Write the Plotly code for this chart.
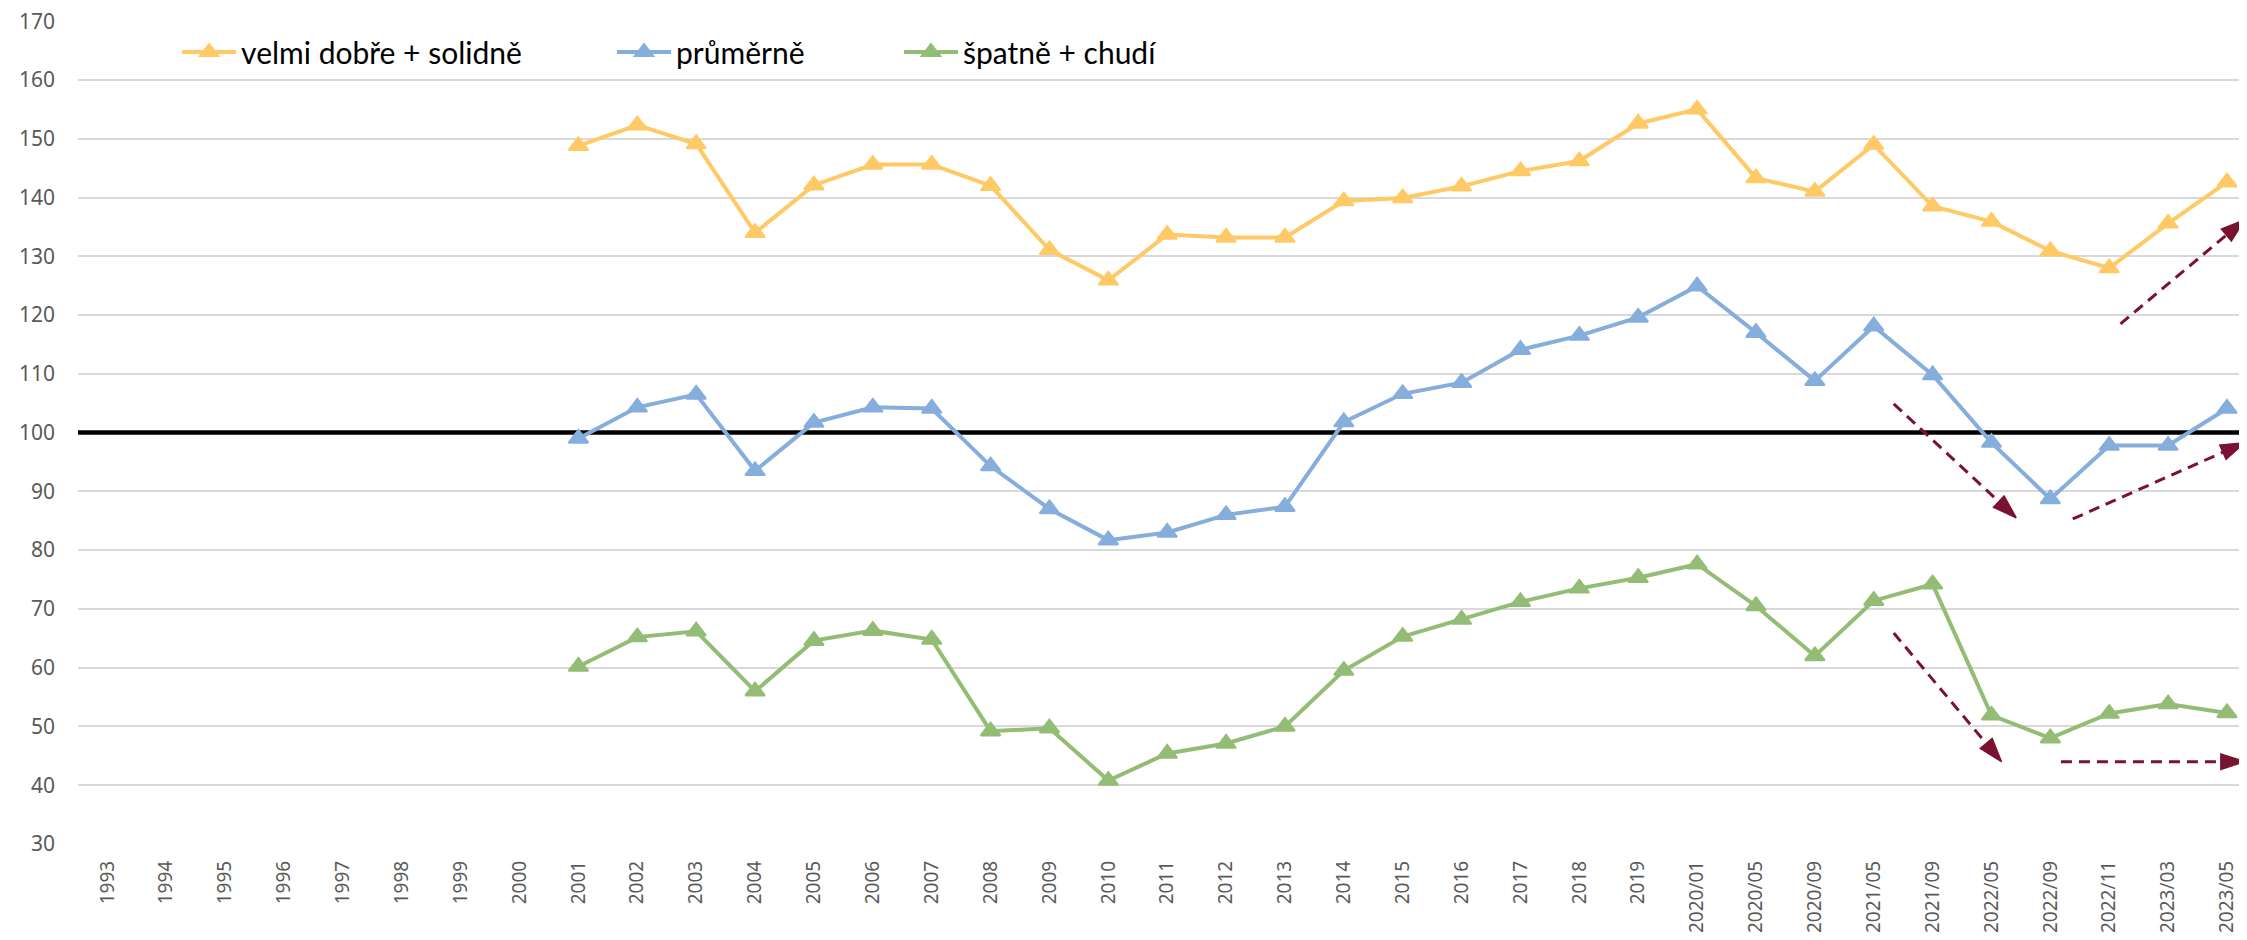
import plotly.graph_objects as go

categories = [str(y) for y in range(1993, 2020)] + [
    "2020/01", "2020/05", "2020/09", "2021/05", "2021/09",
    "2022/05", "2022/09", "2022/11", "2023/03", "2023/05"]

# values from 2001 onwards (earlier years have no data)
good = [148.8, 152.3, 149.1, 134.0, 142.1, 145.6, 145.6, 142.0, 131.1, 125.9,
        133.7, 133.2, 133.2, 139.4, 139.9, 141.9, 144.5, 146.2, 152.6, 155.0,
        143.3, 141.0, 149.0, 138.5, 135.9, 130.9, 128.0, 135.6, 142.6]
average = [99.0, 104.3, 106.5, 93.5, 101.7, 104.3, 104.1, 94.3, 87.0, 81.7,
           83.0, 86.0, 87.4, 101.8, 106.6, 108.5, 114.1, 116.5, 119.6, 124.9,
           117.0, 108.8, 118.1, 109.8, 98.3, 88.7, 97.8, 97.8, 104.1]
poor = [60.2, 65.2, 66.2, 56.0, 64.6, 66.3, 64.8, 49.2, 49.7, 40.8,
        45.4, 47.1, 50.0, 59.5, 65.3, 68.2, 71.2, 73.5, 75.3, 77.6,
        70.5, 62.0, 71.4, 74.2, 51.9, 48.0, 52.2, 53.8, 52.3]
first_year = "2001"
series_names = ["velmi dobře + solidně", "průměrně", "špatně + chudí"]
series_colors = ["#FFC966", "#85AEDD", "#93BD74"]
reference_value = 100

# trend arrows (positions in category-index units, values)
arrow_x0 = [34.19, 30.34, 33.38, 30.34, 33.18]
arrow_y0 = [118.5, 104.9, 85.3, 65.9, 44.0]
arrow_x1 = [36.3, 32.42, 36.3, 32.17, 36.3]
arrow_y1 = [136.2, 85.5, 98.3, 44.0, 44.0]
arrow_color = "#7A1232"

x_min, x_max = -0.5, 36.34
y_min, y_max = 30, 170.03

idx = list(range(len(categories)))
start = categories.index(first_year)
x_data = idx[start:]

fig = go.Figure()

# reference line at 100 (drawn first, beneath the series)
fig.add_trace(go.Scatter(
    x=[x_min, x_max], y=[reference_value, reference_value], mode="lines",
    line=dict(color="black", width=4.5), showlegend=False, hoverinfo="skip",
))

legend_names = ["legend", "legend2", "legend3"]
for vals, name, col, lg in zip([good, average, poor], series_names, series_colors, legend_names):
    fig.add_trace(go.Scatter(
        x=x_data, y=vals, name=name, mode="lines+markers",
        line=dict(color=col, width=4),
        marker=dict(symbol="triangle-up", size=17, color=col, line=dict(color=col, width=2)),
        legend=lg, showlegend=True,
    ))

for x0, y0, x1, y1 in zip(arrow_x0, arrow_y0, arrow_x1, arrow_y1):
    fig.add_trace(go.Scatter(
        x=[x0, x1], y=[y0, y1], mode="lines+markers", showlegend=False,
        line=dict(color=arrow_color, width=3, dash="11px,7px"),
        marker=dict(symbol=["circle", "arrow"], size=[0, 25], color=arrow_color,
                    opacity=1, angleref="previous",
                    line=dict(color=arrow_color, width=1.5)),
        hoverinfo="skip",
    ))

legend_common = dict(orientation="h", yanchor="middle", xanchor="left", y=0.9623,
                     bgcolor="rgba(0,0,0,0)", itemwidth=54,
                     font=dict(family="Lato", size=30, color="#000000"))

fig.update_layout(
    width=2239, height=932,
    margin=dict(l=70, r=0, t=13, b=96, autoexpand=False),
    paper_bgcolor="white", plot_bgcolor="white",
    legend=dict(x=0.0457, **legend_common),
    legend2=dict(x=0.2462, **legend_common),
    legend3=dict(x=0.3785, **legend_common),
    xaxis=dict(
        range=[x_min, x_max], tickmode="array", tickvals=idx, ticktext=categories,
        tickangle=-90, showgrid=False, zeroline=False, showline=False,
        ticks="", ticklabelstandoff=12, automargin=False, ticklabeloverflow="allow",
        tickfont=dict(family="Noto Sans", size=19, color="#595959"),
    ),
    yaxis=dict(
        range=[y_min, y_max], dtick=10, tick0=30, showgrid=True, gridcolor="#D9D9D9",
        gridwidth=1.6, zeroline=False, showline=False, ticks="",
        ticklabelstandoff=22, automargin=False, ticklabeloverflow="allow",
        tickfont=dict(family="Noto Sans", size=21, color="#595959"),
    ),
)

fig.write_html("out.html")
